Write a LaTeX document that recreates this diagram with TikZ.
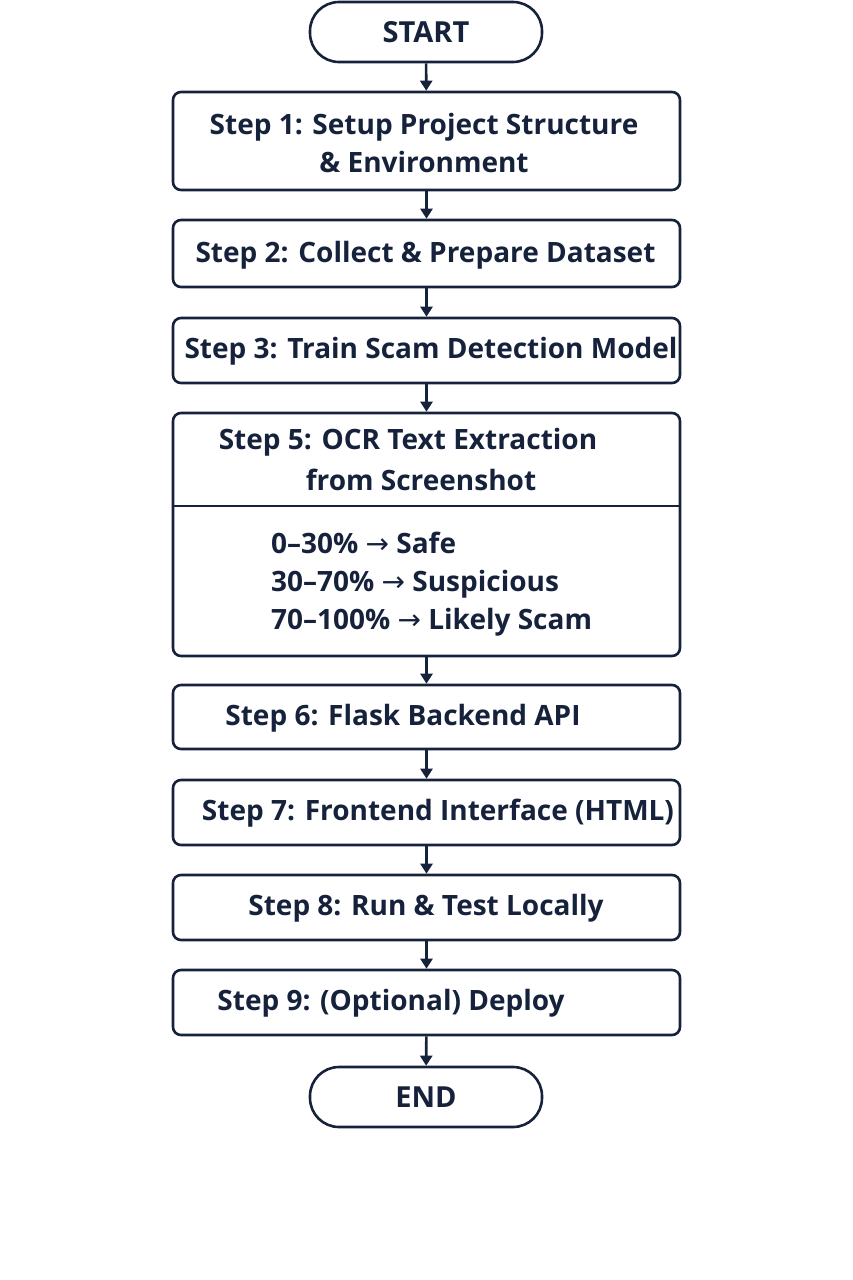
\documentclass[tikz,border=0pt]{standalone}
\usepackage{fontspec}
\setmainfont{Open Sans}
\newfontfamily\symfont{DejaVu Sans}
\usetikzlibrary{arrows.meta}
\definecolor{navy}{RGB}{22,34,60}
\newcommand{\arr}{{\symfont\mdseries →}}

\tikzset{
  flow/.style={line width=2.6pt,draw=navy,-{Triangle[width=12pt,length=10pt]}},
  stepbox/.style={draw=navy,line width=2.6pt,rounded corners=8pt,
    minimum width=507pt,inner sep=0pt},
  terminal/.style={draw=navy,line width=2.6pt,rounded corners=29pt,
    minimum width=232pt,minimum height=60pt,inner sep=0pt,
    text=navy,font=\fontsize{29}{38}\selectfont\bfseries},
  steptext/.style={text=navy,align=center,inner sep=0pt,
    font=\fontsize{28}{38}\selectfont\bfseries}
}

\begin{document}
\begin{tikzpicture}[x=1pt,y=-1pt]
  \useasboundingbox (0,0) rectangle (853,1280);

  \node[terminal] (start) at (426,32) {START};
  \node[stepbox,minimum height=98pt] (s1) at (426.5,141) {};
  \node[stepbox,minimum height=67pt] (s2) at (426.5,253.5) {};
  \node[stepbox,minimum height=65pt] (s3) at (426.5,350.5) {};
  \node[stepbox,minimum height=243pt] (s5) at (426.5,534.5) {};
  \node[stepbox,minimum height=64pt] (s6) at (426.5,717) {};
  \node[stepbox,minimum height=65pt] (s7) at (426.5,812.5) {};
  \node[stepbox,minimum height=65pt] (s8) at (426.5,907.5) {};
  \node[stepbox,minimum height=65pt] (s9) at (426.5,1002.5) {};
  \node[terminal] (end) at (426,1097) {END};

  % texts
  \node[steptext] (t1) at (424,143) {Step 1: Setup Project Structure\\\& Environment};
  \node[steptext] (t2) at (425.5,255) {Step 2: Collect \& Prepare Dataset};
  \node[steptext] (t3) at (431,351.5) {Step 3: Train Scam Detection Model};
  \node[steptext] (t5a) at (408,442) {Step 5: OCR Text Extraction};
  \node[steptext] (t5b) at (421,480) {from Screenshot};
  \node[steptext,align=left,anchor=west] (t5c) at (271,584)
    {0--30\% \arr{} Safe\\30--70\% \arr{} Suspicious\\70--100\% \arr{} Likely Scam};
  \node[steptext] (t6) at (403,718) {Step 6: Flask Backend API};
  \node[steptext] (t7) at (438,813.5) {Step 7: Frontend Interface (HTML)};
  \node[steptext] (t8) at (426,908.5) {Step 8: Run \& Test Locally};
  \node[steptext] (t9) at (391,1003.5) {Step 9: (Optional) Deploy};

  % divider in step 5
  \coordinate (cut) at (0,506);
  \draw[navy,line width=2.6pt] (s5.west |- cut) -- (s5.east |- cut);

  % arrows
  \draw[flow] (start) -- (s1);
  \draw[flow] (s1) -- (s2);
  \draw[flow] (s2) -- (s3);
  \draw[flow] (s3) -- (s5);
  \draw[flow] (s5) -- (s6);
  \draw[flow] (s6) -- (s7);
  \draw[flow] (s7) -- (s8);
  \draw[flow] (s8) -- (s9);
  \draw[flow] (s9) -- (end);
\end{tikzpicture}
\end{document}
